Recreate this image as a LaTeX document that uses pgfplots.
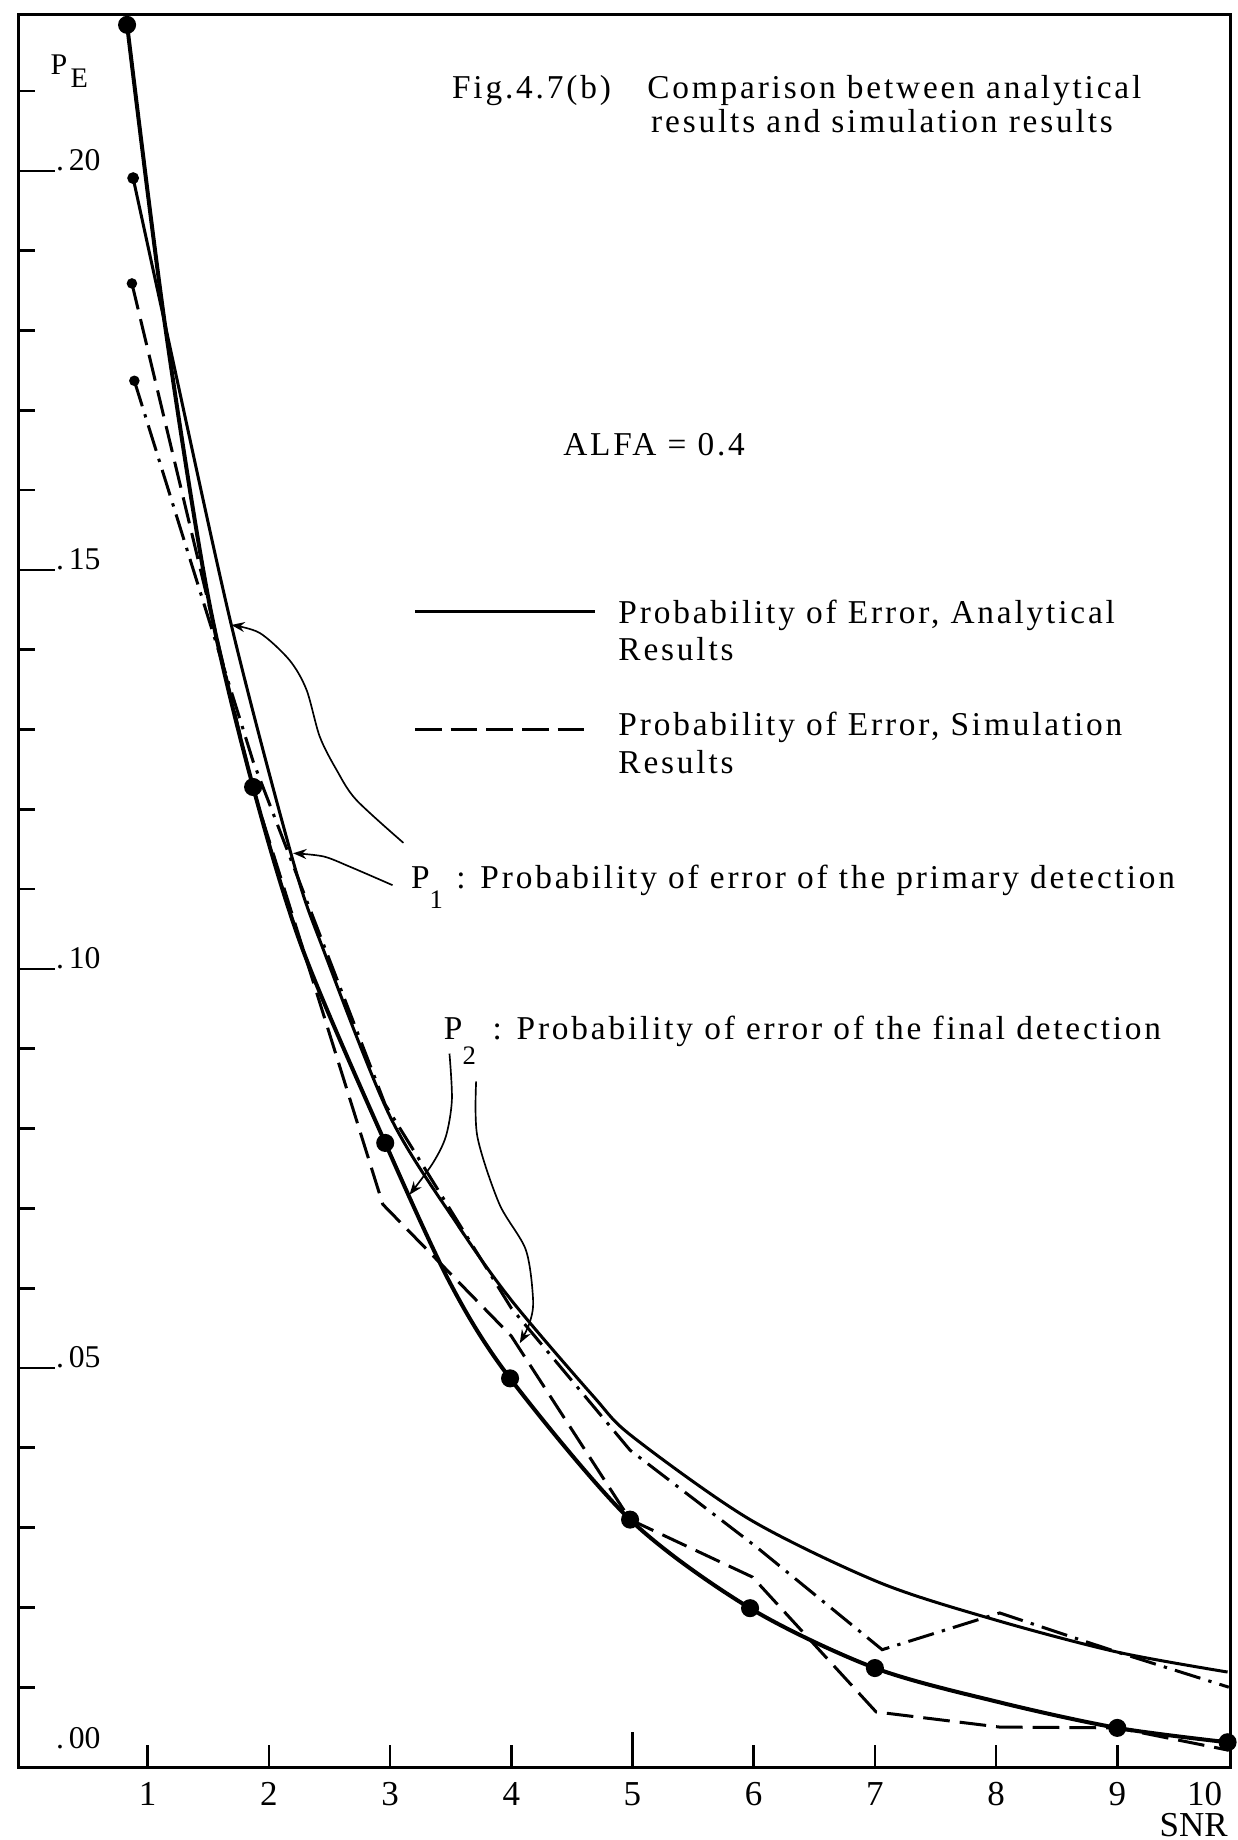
\documentclass[border=0pt]{standalone}
\usepackage{fontspec}
\setmainfont{Liberation Serif}[LetterSpace=8.5]
\newfontfamily\numfont{Liberation Serif}
\usepackage{pgfplots}
\pgfplotsset{compat=1.18}
\usetikzlibrary{arrows.meta}

\tikzset{
  txt/.style={anchor=base west, inner sep=0pt, font=\fontsize{10}{11}\selectfont},
  ylab/.style={anchor=base west, inner sep=0pt, font=\numfont\fontsize{9.5}{10}\selectfont},
  pointer/.style={line width=0.5pt, -{Stealth[length=4pt, width=3pt]}},
}

\begin{document}
\begin{tikzpicture}
\begin{axis}[
  name=ax,
  scale only axis,
  width=363.6pt, height=525.75pt,
  xmin=-0.07, xmax=9.93, ymin=0, ymax=0.2196,
  axis line style={line width=0.9pt},
  tick align=inside,
  xtick={1,2,3,4,5,6,7,8,9,9.72},
  xticklabels={1,2,3,4,5,6,7,8,9,10},
  xtick style={draw=none},
  xticklabel style={font=\numfont\fontsize{10.5}{11}\selectfont, anchor=base, yshift=-11.4pt},
  ytick={0.05,0.10,0.15,0.20},
  minor ytick={0.01,0.02,0.03,0.04,0.06,0.07,0.08,0.09,0.11,0.12,0.13,0.14,0.16,0.17,0.18,0.19,0.21},
  yticklabels={},
  ytick pos=left,
  major tick length=11pt,
  minor tick length=5pt,
  ytick style={line width=0.8pt, black},
  clip=false,
]

% x tick marks, drawn inward; the one at 5 is longer
\pgfplotsinvokeforeach{1,2,3,4,6,7,8,9}{
  \draw[line width=0.8pt] (axis cs:#1,0) -- ([yshift=6.5pt]axis cs:#1,0);
}
\draw[line width=0.8pt] (axis cs:5,0) -- ([yshift=10.5pt]axis cs:5,0);

% P2, analytical (heavy solid, plotted points)
\addplot[line width=1.2pt, smooth, mark=*, mark size=2.1pt,
         mark indices={1,4,6,8,9,10,11,13,14}] table {
x y
0.83 0.2183
1.14 0.1810
1.50 0.1465
1.87 0.1228
2.28 0.1024
2.96 0.0782
3.50 0.0605
3.99 0.0487
4.98 0.0310
5.97 0.0199
7.00 0.0124
8.03 0.0081
9.00 0.0049
9.91 0.0031
};

% P1, analytical (solid)
\addplot[line width=0.9pt, smooth, mark=*, mark size=1.3pt, mark indices={1}] table {
x y
0.88 0.1991
1.14 0.1810
1.69 0.1431
2.20 0.1135
2.45 0.1024
3.00 0.0815
3.55 0.0681
4.00 0.0585
4.68 0.0464
5.00 0.0414
5.97 0.0310
7.04 0.0231
8.00 0.0184
9.00 0.0144
9.91 0.0119
};

% P2, simulation (dashed)
\addplot[line width=0.9pt, dash pattern=on 8pt off 3pt, mark=*, mark size=1.1pt,
         mark indices={1}, mark options={solid}] table {
x y
0.87 0.1859
1.87 0.1225
2.94 0.0705
4.00 0.0540
4.98 0.0310
5.99 0.0238
7.01 0.0069
8.03 0.0050
9.00 0.0049
9.92 0.0021
};

% P1, simulation (dash-dot)
\addplot[line width=0.9pt, dash pattern=on 8pt off 2.5pt on 1pt off 2.5pt, mark=*,
         mark size=1.1pt, mark indices={1}, mark options={solid}] table {
x y
0.89 0.1737
1.87 0.1260
2.96 0.0830
4.00 0.0575
4.98 0.0397
6.02 0.0276
7.06 0.0147
8.03 0.0193
9.00 0.0144
9.92 0.0100
};

% y tick labels, set inside the frame after the tick
\node[ylab] at ([xshift=11.2pt]axis cs:-0.07,0.20) {.\kern1.5pt20};
\node[ylab] at ([xshift=11.2pt]axis cs:-0.07,0.15) {.\kern1.5pt15};
\node[ylab] at ([xshift=11.2pt]axis cs:-0.07,0.10) {.\kern1.5pt10};
\node[ylab] at ([xshift=11.2pt]axis cs:-0.07,0.05) {.\kern1.5pt05};
\node[ylab] at ([xshift=11.2pt]axis cs:-0.07,0.0023) {.\kern1.5pt00};

% axis names
\node[anchor=base west, inner sep=0pt, font=\numfont\fontsize{9}{10}\selectfont]
  at (axis cs:0.194,0.2121) {P\kern1pt\raisebox{-4pt}{\fontsize{8.5}{9}\selectfont E}};
\node[anchor=base, inner sep=0pt, font=\numfont\fontsize{10.5}{11}\selectfont]
  at ([yshift=-20.7pt]axis cs:9.63,0) {SNR};

% caption and parameter
\node[txt] at (axis cs:3.506,0.2091) {Fig.4.7(b)};
\node[txt] at (axis cs:5.117,0.2091) {Comparison between analytical};
\node[txt] at (axis cs:5.149,0.2048) {results and simulation results};
\node[txt] at (axis cs:4.424,0.1644) {ALFA = 0.4};

% key
\draw[line width=0.9pt] (axis cs:3.206,0.1448) -- (axis cs:4.69,0.1448);
\node[txt] at (axis cs:4.879,0.1433) {Probability of Error, Analytical};
\node[txt] at (axis cs:4.879,0.1387) {Results};
\draw[line width=0.9pt, dash pattern=on 8pt off 2.7pt] (axis cs:3.206,0.12995) -- (axis cs:4.62,0.12995);
\node[txt] at (axis cs:4.879,0.1293) {Probability of Error, Simulation};
\node[txt] at (axis cs:4.879,0.1245) {Results};

% curve identification
\node[txt] at (axis cs:3.168,0.1101)
  {P\raisebox{-6pt}{\fontsize{8}{8}\selectfont 1}\hspace{4pt}: Probability of error of the primary detection};
\node[txt] at (axis cs:3.439,0.0912)
  {P\raisebox{-7.7pt}{\fontsize{8}{8}\selectfont 2}\hspace{5pt}: Probability of error of the final detection};

\draw[pointer] plot[smooth] coordinates {(axis cs:3.11,0.1158) (axis cs:2.72,0.1212)
  (axis cs:2.56,0.1249) (axis cs:2.42,0.1291) (axis cs:2.31,0.1350) (axis cs:2.17,0.1387)
  (axis cs:1.925,0.1421) (axis cs:1.69,0.1431)};
\draw[pointer] plot[smooth] coordinates {(axis cs:3.02,0.1105) (axis cs:2.67,0.1128)
  (axis cs:2.45,0.1141) (axis cs:2.20,0.1145)};
\draw[pointer] plot[smooth] coordinates {(axis cs:3.49,0.0894) (axis cs:3.51,0.0836)
  (axis cs:3.46,0.0790) (axis cs:3.35,0.0756) (axis cs:3.16,0.0717)};
\draw[pointer] plot[smooth] coordinates {(axis cs:3.71,0.0859) (axis cs:3.72,0.0790)
  (axis cs:3.90,0.0706) (axis cs:4.12,0.0648) (axis cs:4.18,0.0585) (axis cs:4.15,0.0556)
  (axis cs:4.07,0.0531)};

\end{axis}
\pgfresetboundingbox
\path[use as bounding box] ([xshift=-5.4pt,yshift=-21.9pt]ax.south west)
  rectangle ([xshift=2.4pt,yshift=4.35pt]ax.north east);
\end{tikzpicture}
\end{document}
